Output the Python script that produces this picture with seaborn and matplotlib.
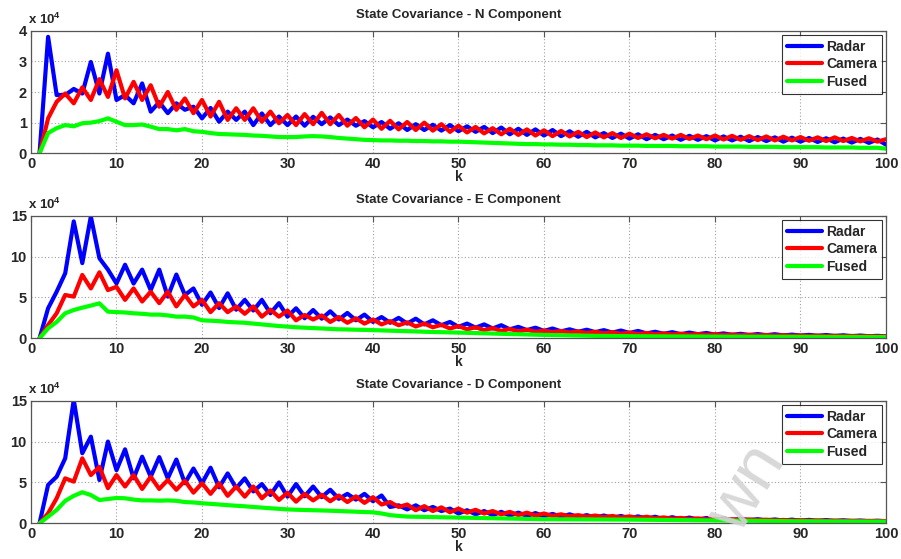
import numpy as np
import pandas as pd
import matplotlib
matplotlib.use("Agg")
import matplotlib.pyplot as plt
import seaborn as sns

# ---------------- data (values in units of 1e4) ----------------
k = list(range(1, 101))

radar_N = [0, 3.8, 1.9, 1.9, 2.1, 1.95, 2.98, 1.95, 3.25, 1.74,
           1.9, 1.63, 2.28, 1.36, 1.67, 1.31, 1.63, 1.42, 1.52, 1.14,
           1.48, 1.03, 1.36, 1.09, 1.36, 0.92, 1.3, 0.92, 1.2, 0.92,
           1.2, 0.9, 1.19, 0.95, 1.17, 0.92, 1.1, 0.9, 1.05, 0.85,
           1.02, 0.8, 0.98, 0.76, 0.95, 0.76, 0.93, 0.74, 0.92, 0.72,
           0.88, 0.7, 0.86, 0.66, 0.84, 0.62, 0.8, 0.6, 0.78, 0.58,
           0.76, 0.56, 0.72, 0.54, 0.7, 0.52, 0.66, 0.5, 0.64, 0.48,
           0.62, 0.46, 0.6, 0.46, 0.58, 0.44, 0.57, 0.44, 0.56, 0.42,
           0.55, 0.42, 0.54, 0.4, 0.53, 0.4, 0.52, 0.38, 0.51, 0.38,
           0.5, 0.37, 0.49, 0.36, 0.48, 0.35, 0.47, 0.34, 0.45, 0.28]
camera_N = [0, 1.14, 1.68, 1.95, 1.63, 2.15, 1.74, 2.42, 1.84, 2.71,
            1.79, 2.33, 1.74, 2.22, 1.52, 2.0, 1.42, 1.79, 1.31, 1.74,
            1.2, 1.68, 1.09, 1.47, 1.09, 1.47, 1.03, 1.36, 0.98, 1.25,
            0.92, 1.28, 0.95, 1.32, 0.95, 1.25, 0.9, 1.15, 0.85, 1.1,
            0.8, 1.06, 0.78, 1.02, 0.76, 1.0, 0.74, 0.95, 0.7, 0.9,
            0.68, 0.86, 0.65, 0.82, 0.62, 0.8, 0.6, 0.78, 0.58, 0.75,
            0.56, 0.73, 0.55, 0.7, 0.53, 0.68, 0.52, 0.66, 0.5, 0.64,
            0.5, 0.62, 0.49, 0.6, 0.48, 0.6, 0.47, 0.58, 0.46, 0.58,
            0.45, 0.57, 0.44, 0.56, 0.43, 0.55, 0.42, 0.54, 0.42, 0.53,
            0.41, 0.52, 0.4, 0.52, 0.4, 0.5, 0.39, 0.49, 0.38, 0.46]
fused_N = [0, 0.66, 0.82, 0.92, 0.88, 0.98, 1.0, 1.05, 1.14, 1.03,
           0.92, 0.92, 0.94, 0.87, 0.79, 0.79, 0.75, 0.79, 0.72, 0.7,
           0.66, 0.63, 0.62, 0.61, 0.6, 0.58, 0.57, 0.55, 0.53, 0.53,
           0.53, 0.55, 0.56, 0.55, 0.53, 0.5, 0.48, 0.46, 0.44, 0.43,
           0.42, 0.42, 0.41, 0.41, 0.4, 0.4, 0.39, 0.39, 0.38, 0.38,
           0.37, 0.36, 0.35, 0.34, 0.33, 0.32, 0.31, 0.3, 0.3, 0.29,
           0.29, 0.28, 0.28, 0.27, 0.27, 0.26, 0.26, 0.26, 0.25, 0.25,
           0.25, 0.24, 0.24, 0.24, 0.24, 0.23, 0.23, 0.23, 0.23, 0.22,
           0.22, 0.22, 0.22, 0.21, 0.21, 0.21, 0.21, 0.2, 0.2, 0.2,
           0.2, 0.2, 0.19, 0.19, 0.19, 0.19, 0.18, 0.18, 0.18, 0.15]

radar_E = [0, 3.67, 5.7, 7.95, 14.3, 9.2, 14.9, 9.8, 8.4, 6.7,
           9.0, 6.7, 8.4, 5.9, 8.4, 5.1, 7.8, 5.3, 6.1, 4.1,
           5.6, 3.7, 5.5, 3.5, 4.7, 3.4, 4.7, 3.06, 4.3, 2.65,
           3.67, 2.45, 3.46, 2.4, 3.3, 2.3, 3.1, 2.2, 2.9, 2.0,
           2.6, 1.9, 2.5, 1.8, 2.4, 1.7, 2.2, 1.6, 2.0, 1.4,
           1.8, 1.3, 1.7, 1.2, 1.6, 1.1, 1.4, 1.0, 1.3, 0.9,
           1.2, 0.85, 1.1, 0.8, 1.05, 0.75, 1.0, 0.7, 0.95, 0.65,
           0.9, 0.6, 0.8, 0.55, 0.75, 0.5, 0.7, 0.5, 0.65, 0.45,
           0.6, 0.42, 0.55, 0.4, 0.52, 0.38, 0.5, 0.35, 0.45, 0.33,
           0.42, 0.3, 0.4, 0.28, 0.37, 0.26, 0.34, 0.25, 0.3, 0.24]
camera_E = [0, 1.63, 3.06, 5.3, 5.1, 7.75, 6.1, 8.07, 5.9, 6.3,
            4.7, 6.1, 4.5, 5.7, 4.3, 5.7, 3.9, 5.3, 3.9, 4.7,
            3.2, 4.3, 3.2, 3.9, 3.0, 3.9, 2.65, 3.5, 2.65, 3.4,
            2.2, 2.85, 2.3, 2.8, 2.0, 2.6, 1.9, 2.45, 1.8, 2.3,
            1.7, 2.1, 1.6, 1.95, 1.45, 1.8, 1.35, 1.65, 1.2, 1.5,
            1.1, 1.35, 1.0, 1.25, 0.9, 1.15, 0.85, 1.05, 0.8, 0.95,
            0.75, 0.9, 0.7, 0.85, 0.65, 0.8, 0.6, 0.75, 0.55, 0.7,
            0.52, 0.65, 0.5, 0.6, 0.47, 0.56, 0.44, 0.52, 0.42, 0.5,
            0.4, 0.46, 0.37, 0.43, 0.35, 0.4, 0.33, 0.38, 0.31, 0.35,
            0.29, 0.33, 0.27, 0.31, 0.26, 0.29, 0.25, 0.27, 0.24, 0.25]
fused_E = [0, 1.22, 2.0, 3.06, 3.46, 3.75, 4.0, 4.28, 3.26, 3.2,
           3.16, 3.06, 3.0, 2.9, 2.9, 2.8, 2.65, 2.65, 2.55, 2.2,
           2.15, 2.1, 2.0, 1.95, 1.9, 1.8, 1.7, 1.6, 1.5, 1.43,
           1.35, 1.3, 1.25, 1.2, 1.15, 1.1, 1.08, 1.05, 1.03, 1.0,
           0.97, 0.93, 0.9, 0.87, 0.84, 0.8, 0.77, 0.75, 0.72, 0.7,
           0.67, 0.64, 0.61, 0.58, 0.55, 0.52, 0.5, 0.47, 0.44, 0.42,
           0.4, 0.38, 0.36, 0.34, 0.32, 0.3, 0.29, 0.28, 0.27, 0.26,
           0.25, 0.25, 0.24, 0.24, 0.23, 0.23, 0.22, 0.22, 0.21, 0.21,
           0.2, 0.2, 0.2, 0.19, 0.19, 0.19, 0.18, 0.18, 0.18, 0.17,
           0.17, 0.17, 0.16, 0.16, 0.16, 0.16, 0.15, 0.15, 0.15, 0.15]

radar_D = [0, 4.7, 5.7, 7.95, 15.1, 8.57, 10.6, 5.3, 10.0, 6.5,
           9.05, 5.5, 8.15, 5.7, 8.1, 5.5, 7.8, 4.9, 6.7, 4.9,
           6.8, 4.4, 6.1, 4.3, 5.5, 3.9, 4.8, 3.46, 5.0, 3.26,
           4.8, 3.3, 4.5, 3.2, 4.1, 3.0, 3.6, 2.9, 3.6, 2.7,
           3.4, 2.0, 2.2, 1.7, 2.2, 1.6, 2.0, 1.5, 1.8, 1.2,
           1.6, 1.1, 1.5, 1.0, 1.4, 0.95, 1.3, 0.9, 1.25, 0.85,
           1.15, 0.8, 1.1, 0.75, 1.0, 0.7, 0.95, 0.65, 0.9, 0.6,
           0.85, 0.55, 0.8, 0.5, 0.75, 0.48, 0.7, 0.45, 0.65, 0.42,
           0.6, 0.4, 0.55, 0.38, 0.5, 0.35, 0.47, 0.33, 0.45, 0.3,
           0.42, 0.28, 0.4, 0.27, 0.37, 0.26, 0.34, 0.25, 0.32, 0.25]
camera_D = [0, 1.22, 3.06, 5.5, 5.1, 7.95, 5.9, 6.9, 4.3, 5.9,
            4.5, 5.9, 4.2, 5.7, 4.2, 5.3, 4.1, 5.2, 3.75, 4.9,
            3.6, 4.9, 3.36, 4.5, 3.26, 4.5, 3.06, 4.0, 2.85, 3.75,
            2.65, 3.6, 2.8, 3.5, 2.7, 3.4, 2.6, 3.3, 2.5, 3.2,
            2.3, 2.6, 2.0, 2.3, 1.6, 2.1, 1.5, 1.95, 1.35, 1.8,
            1.3, 1.65, 1.2, 1.5, 1.1, 1.4, 1.0, 1.3, 0.95, 1.2,
            0.9, 1.1, 0.85, 1.0, 0.8, 0.95, 0.75, 0.9, 0.7, 0.85,
            0.65, 0.8, 0.6, 0.72, 0.56, 0.66, 0.52, 0.6, 0.48, 0.55,
            0.45, 0.5, 0.42, 0.47, 0.4, 0.44, 0.37, 0.41, 0.35, 0.38,
            0.33, 0.36, 0.31, 0.34, 0.3, 0.32, 0.28, 0.3, 0.27, 0.28]
fused_D = [0, 0.82, 1.63, 2.74, 3.36, 3.8, 3.46, 2.85, 2.97, 3.1,
           3.06, 2.9, 2.8, 2.8, 2.77, 2.8, 2.75, 2.6, 2.55, 2.45,
           2.38, 2.3, 2.22, 2.15, 2.08, 2.0, 1.92, 1.84, 1.77, 1.7,
           1.66, 1.63, 1.6, 1.57, 1.54, 1.5, 1.46, 1.42, 1.38, 1.34,
           1.2, 1.0, 0.9, 0.82, 0.8, 0.78, 0.76, 0.74, 0.72, 0.7,
           0.68, 0.66, 0.64, 0.62, 0.6, 0.58, 0.56, 0.54, 0.52, 0.5,
           0.5, 0.49, 0.49, 0.48, 0.48, 0.47, 0.47, 0.46, 0.46, 0.45,
           0.44, 0.43, 0.42, 0.41, 0.4, 0.39, 0.38, 0.37, 0.36, 0.35,
           0.34, 0.33, 0.32, 0.31, 0.3, 0.29, 0.28, 0.27, 0.26, 0.25,
           0.25, 0.24, 0.24, 0.23, 0.23, 0.22, 0.22, 0.21, 0.21, 0.2]

sensors = ["Radar", "Camera", "Fused"]
colors = {"Radar": "#0000ff", "Camera": "#ff0000", "Fused": "#00ff00"}
titles = ["State Covariance - N Component",
          "State Covariance - E Component",
          "State Covariance - D Component"]
panels = [(radar_N, camera_N, fused_N),
          (radar_E, camera_E, fused_E),
          (radar_D, camera_D, fused_D)]
yticks = [[0, 1, 2, 3, 4], [0, 5, 10, 15], [0, 5, 10, 15]]
ylims = [(0, 4), (0, 15), (0, 15)]
xticks = list(range(0, 101, 10))

# ---------------- style ----------------
sns.set_theme(style="white")
plt.rcParams["font.family"] = ["Liberation Sans", "DejaVu Sans"]
plt.rcParams["font.weight"] = "bold"
plt.rcParams["mathtext.fontset"] = "custom"
plt.rcParams["mathtext.rm"] = "Liberation Sans:bold"
plt.rcParams["mathtext.default"] = "rm"

W, H = 901, 559
fig = plt.figure(figsize=(W / 100, H / 100), dpi=100)
fig.patch.set_facecolor("white")

ax_px = [(30.7, 153.3), (215.7, 338.3), (400.7, 523.3)]
left_px, right_px = 31, 886

for i, ((top, bot), series) in enumerate(zip(ax_px, panels)):
    ax = fig.add_axes([left_px / W, 1 - bot / H, (right_px - left_px) / W, (bot - top) / H])
    frames = []
    for name, vals in zip(sensors, series):
        frames.append(pd.DataFrame({"k": k, "value": vals, "sensor": name}))
    df = pd.concat(frames, ignore_index=True)
    sns.lineplot(data=df, x="k", y="value", hue="sensor", hue_order=sensors,
                 palette=colors, linewidth=3.0, ax=ax, legend=True)
    ax.set_xlim(0, 100)
    ax.set_ylim(*ylims[i])
    ax.set_xticks(xticks)
    ax.set_yticks(yticks[i])
    ax.grid(True, linestyle=(0, (1, 2)), color="#a0a0a0", linewidth=0.8)
    ax.set_axisbelow(True)
    for sp in ax.spines.values():
        sp.set_color("#555555")
        sp.set_linewidth(0.9)
    ax.tick_params(axis="both", direction="in", length=4, width=0.8, color="#555555",
                   top=True, right=True, labelsize=10.5, pad=3)
    for lab in ax.get_xticklabels() + ax.get_yticklabels():
        lab.set_fontweight("bold")
    ax.set_title(titles[i], fontsize=9.5, fontweight="bold", pad=9)
    ax.set_xlabel("k", fontsize=10, fontweight="bold", labelpad=-1)
    ax.set_ylabel("")
    ax.text(-0.004, 1.03, r"x 10$^{4}$", transform=ax.transAxes, fontsize=9.5,
            fontweight="bold", ha="left", va="bottom")
    leg = ax.legend(loc="upper right", fontsize=10, frameon=True, fancybox=False,
                    borderaxespad=0.3, handlelength=2.5, labelspacing=0.25,
                    handletextpad=0.3, borderpad=0.35)
    leg.get_frame().set_edgecolor("black")
    leg.get_frame().set_linewidth(0.8)
    for t in leg.get_texts():
        t.set_fontweight("bold")
    for h in leg.get_lines():
        h.set_linewidth(3.0)

# faint watermark fragment in the lower right
fig.text(0.83, 0.125, "wn", fontsize=50, color="#d4d4d4", rotation=58,
         ha="center", va="center", fontweight="normal", alpha=0.9, zorder=10)

fig.savefig("out.png", dpi=100, facecolor="white")
